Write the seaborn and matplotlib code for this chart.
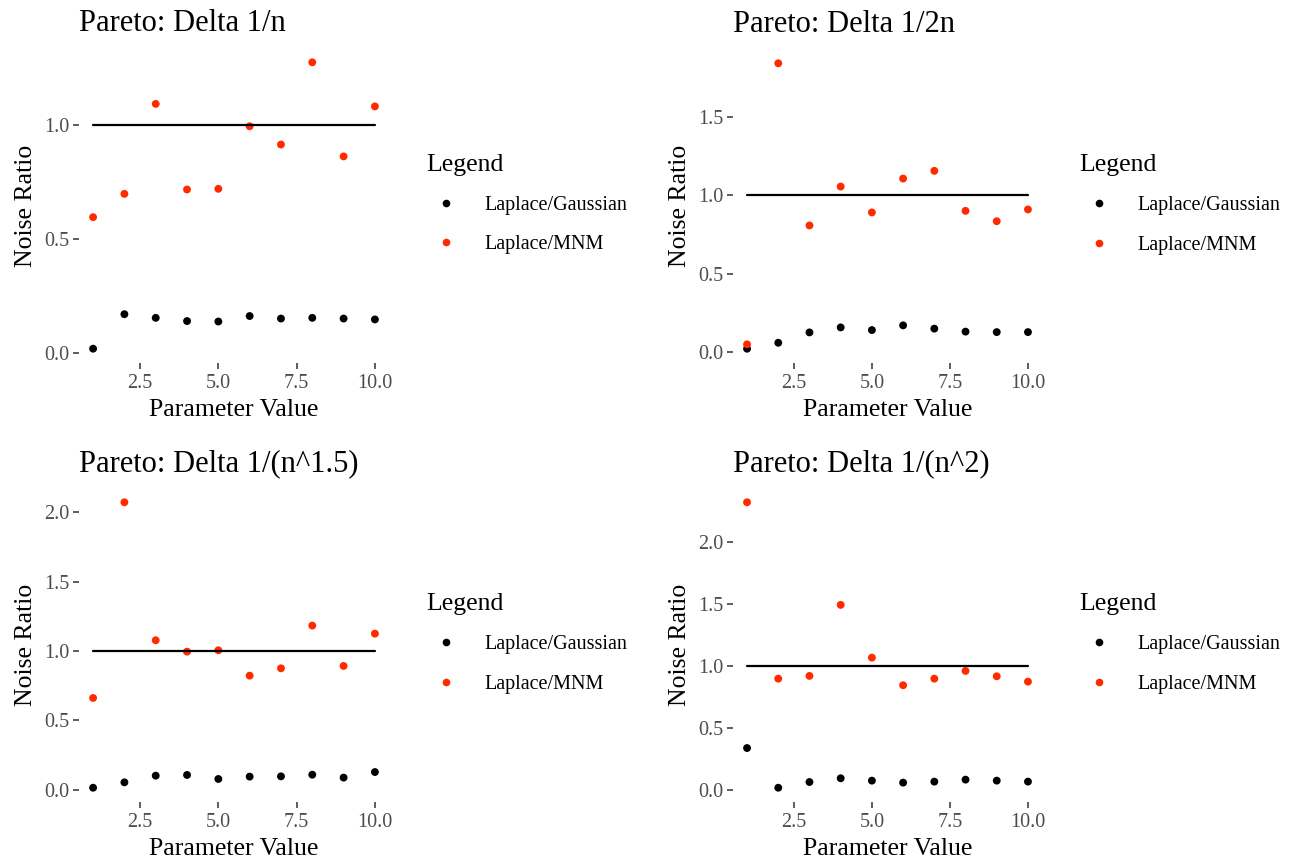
import numpy as np
import pandas as pd
import matplotlib
matplotlib.use("Agg")
import matplotlib.pyplot as plt
import seaborn as sns
from matplotlib.lines import Line2D

# ------------------------------
# Data
# ------------------------------
param = [1, 2, 3, 4, 5, 6, 7, 8, 9, 10]

titles = ["Pareto: Delta 1/n", "Pareto: Delta 1/2n",
          "Pareto: Delta 1/(n^1.5)", "Pareto: Delta 1/(n^2)"]

lap_gauss_1 = [0.020, 0.171, 0.155, 0.141, 0.139, 0.163, 0.152, 0.155, 0.152, 0.148]
lap_mnm_1 = [0.596, 0.698, 1.092, 0.717, 0.720, 0.994, 0.914, 1.274, 0.862, 1.081]

lap_gauss_2 = [0.021, 0.059, 0.125, 0.157, 0.140, 0.170, 0.149, 0.130, 0.127, 0.127]
lap_mnm_2 = [0.049, 1.841, 0.807, 1.055, 0.890, 1.106, 1.155, 0.900, 0.834, 0.909]

lap_gauss_3 = [0.014, 0.053, 0.101, 0.106, 0.077, 0.094, 0.096, 0.108, 0.087, 0.127]
lap_mnm_3 = [0.661, 2.072, 1.077, 0.995, 1.005, 0.822, 0.875, 1.183, 0.892, 1.125]

lap_gauss_4 = [0.340, 0.021, 0.067, 0.097, 0.078, 0.062, 0.070, 0.086, 0.078, 0.070]
lap_mnm_4 = [2.316, 0.898, 0.920, 1.491, 1.067, 0.845, 0.898, 0.960, 0.917, 0.874]

ref_ratio = [1.0] * len(param)

series = [(lap_gauss_1, lap_mnm_1), (lap_gauss_2, lap_mnm_2),
          (lap_gauss_3, lap_mnm_3), (lap_gauss_4, lap_mnm_4)]
y_ticks = [[0.0, 0.5, 1.0], [0.0, 0.5, 1.0, 1.5],
           [0.0, 0.5, 1.0, 1.5, 2.0], [0.0, 0.5, 1.0, 1.5, 2.0]]
x_ticks = [2.5, 5.0, 7.5, 10.0]

labels = ["Laplace/Gaussian", "Laplace/MNM"]
palette = {"Laplace/Gaussian": "black", "Laplace/MNM": "#FF2A00"}

# ------------------------------
# Style
# ------------------------------
sns.set_theme(style="white")
plt.rcParams["font.family"] = ["Liberation Serif", "DejaVu Serif"]
plt.rcParams["text.color"] = "black"
plt.rcParams["axes.labelcolor"] = "black"

W, H = 1295, 863
fig = plt.figure(figsize=(W / 100, H / 100), dpi=100)

# axes boxes in pixels: left, top, right, bottom
boxes = [(79, 48, 389, 363), (733, 49, 1042, 363),
         (79, 488, 389, 802), (733, 488, 1042, 802)]

for i, (box, (g, m)) in enumerate(zip(boxes, series)):
    l, t, r, b = box
    ax = fig.add_axes([l / W, 1 - b / H, (r - l) / W, (b - t) / H])

    df = pd.DataFrame({
        "Parameter": param * 2,
        "Ratio": g + m,
        "Legend": [labels[0]] * len(param) + [labels[1]] * len(param),
    })
    sns.lineplot(x=param, y=ref_ratio, color="black", linewidth=1.6, ax=ax)
    sns.scatterplot(data=df, x="Parameter", y="Ratio", hue="Legend",
                    palette=palette, s=32, edgecolor="none", legend=False, ax=ax)

    vals = np.array(g + m)
    lo, hi = vals.min(), vals.max()
    pad = (hi - lo) * 0.05
    ax.set_ylim(lo - pad, hi + pad)
    ax.set_xlim(1 - 0.45, 10 + 0.45)

    ax.set_xticks(x_ticks)
    ax.set_xticklabels([f"{v:.1f}" for v in x_ticks])
    ax.set_yticks(y_ticks[i])
    ax.set_yticklabels([f"{v:.1f}" for v in y_ticks[i]])
    ax.tick_params(axis="both", which="both", length=4, width=1.1,
                   color="#333333", labelcolor="#4D4D4D", labelsize=14.5,
                   bottom=True, left=True, pad=3)
    ax.tick_params(axis="x", pad=4)
    for sp in ax.spines.values():
        sp.set_visible(False)

    ax.set_xlabel("Parameter Value", fontsize=18.5, color="black", labelpad=4)
    ax.set_ylabel("Noise Ratio", fontsize=18.5, color="black", labelpad=5)
    ax.set_title(titles[i], fontsize=22, loc="left", x=0.0, pad=12,
                 color="black")

    handles = [Line2D([], [], marker="o", linestyle="none", markersize=5.5,
                      markerfacecolor=palette[k], markeredgecolor="none")
               for k in labels]
    leg = ax.legend(handles, labels, title="Legend", loc="center left",
                    bbox_to_anchor=(1.095, 0.505), frameon=False, fontsize=14.5,
                    title_fontsize=18.5, handletextpad=1.0, labelspacing=1.0,
                    handlelength=1.9, borderaxespad=0)
    leg._legend_box.align = "left"
    leg.get_title().set_color("black")
    for txt in leg.get_texts():
        txt.set_color("black")

fig.savefig("out.png", dpi=100)
